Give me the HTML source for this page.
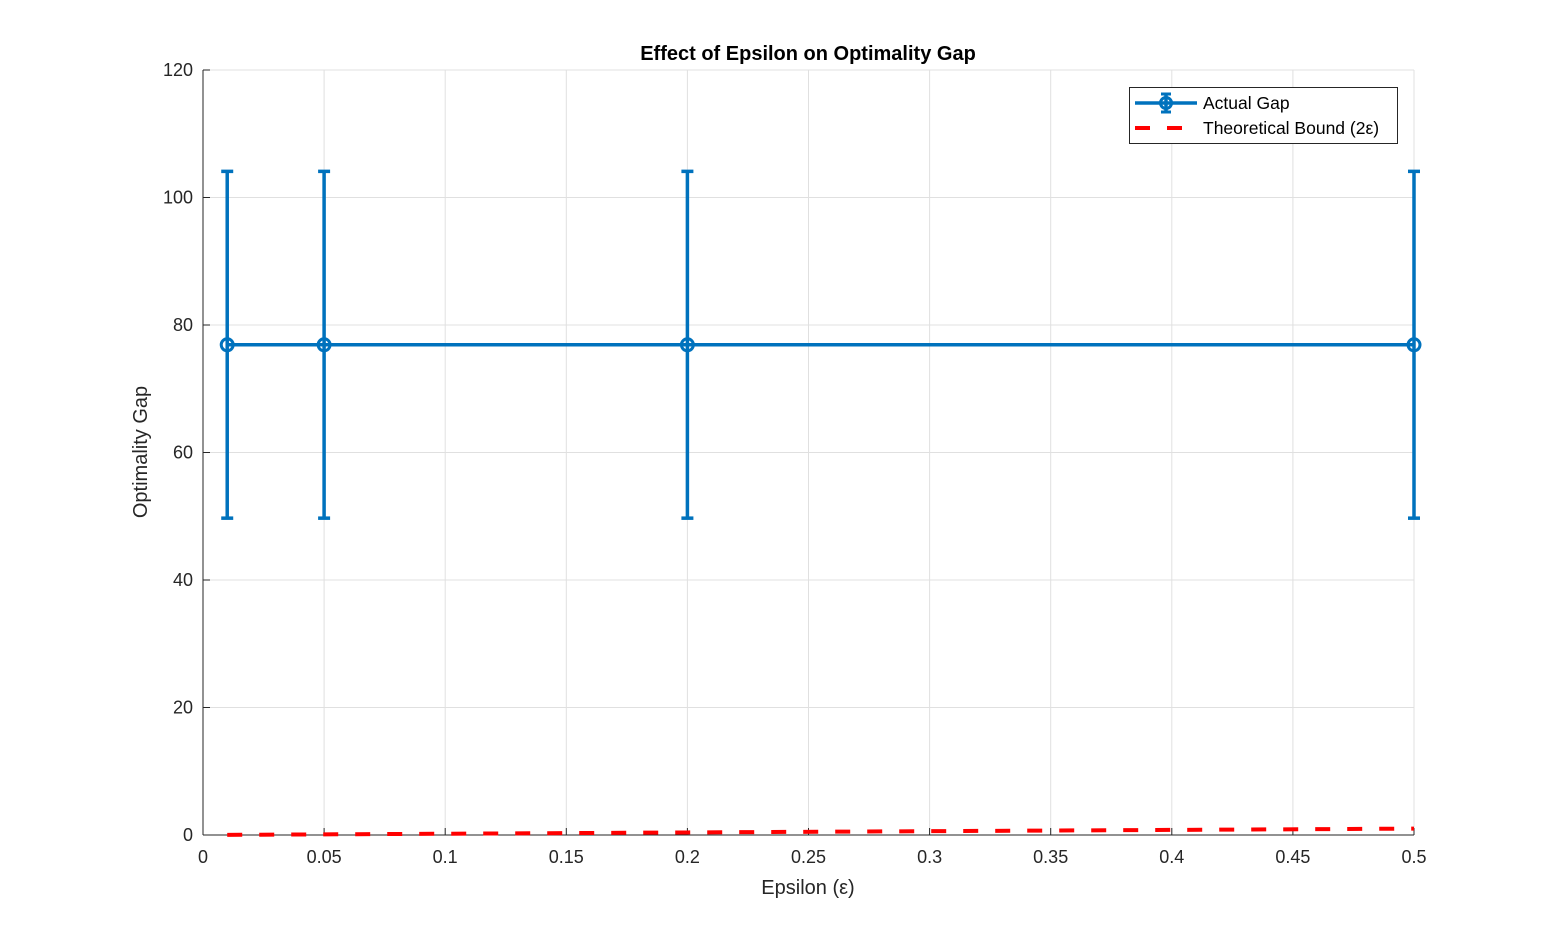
<!DOCTYPE html>
<html><head><meta charset="utf-8"><style>
body{margin:0;background:#fff;}
svg{display:block;font-family:"Liberation Sans",Arial,sans-serif;}
</style></head><body>
<svg id="chart" width="1563" height="938" viewBox="0 0 1563 938" xmlns="http://www.w3.org/2000/svg">
<rect width="1563" height="938" fill="#fff"/>
<g id="grid"></g>
<g id="axes"></g>
<g id="series"></g>
<text x="808" y="60" text-anchor="middle" font-size="20" font-weight="bold" fill="#000">Effect of Epsilon on Optimality Gap</text>
<text x="808" y="894" text-anchor="middle" font-size="20" fill="#262626">Epsilon (ε)</text>
<text transform="translate(147,452) rotate(-90)" text-anchor="middle" font-size="20" fill="#262626">Optimality Gap</text>
<g>
<rect x="1129.5" y="87.5" width="268" height="56" fill="#fff" stroke="#262626" stroke-width="1"/>
<g>
<line x1="1135" y1="103" x2="1197" y2="103" stroke="#0072BD" stroke-width="3.5"/>
<line x1="1166" y1="94" x2="1166" y2="112" stroke="#0072BD" stroke-width="3.5"/>
<line x1="1161" y1="94" x2="1171" y2="94" stroke="#0072BD" stroke-width="3"/>
<line x1="1161" y1="112" x2="1171" y2="112" stroke="#0072BD" stroke-width="3"/>
<circle cx="1166" cy="103" r="5.5" fill="none" stroke="#0072BD" stroke-width="3"/>
<text x="1203" y="109" font-size="17.5" fill="#000">Actual Gap</text>
</g>
<g>
<line x1="1135" y1="128" x2="1197" y2="128" stroke="#FF0000" stroke-width="4" stroke-dasharray="15,17"/>
<text x="1203" y="134" font-size="17.5" fill="#000">Theoretical Bound (2ε)</text>
</g>
</g>
</svg>
<script>
const epsilons = [0.01, 0.05, 0.2, 0.5];
const actualGap = [76.9, 76.9, 76.9, 76.9];
const gapError = [27.2, 27.2, 27.2, 27.2];
const boundValues = [0.02, 0.1, 0.4, 1.0];
const xTicks = [0,0.05,0.1,0.15,0.2,0.25,0.3,0.35,0.4,0.45,0.5];
const xTickLabels = ["0","0.05","0.1","0.15","0.2","0.25","0.3","0.35","0.4","0.45","0.5"];
const yTicks = [0,20,40,60,80,100,120];
const yTickLabels = ["0","20","40","60","80","100","120"];

const X0=203,X1=1414,Y0=835,Y1=70;
function xs(v){return X0+(v-0)/(0.5-0)*(X1-X0);}
function ys(v){return Y0-(v-0)/(120-0)*(Y0-Y1);}
const NS="http://www.w3.org/2000/svg";
function mk(tag,attrs,parent){const e=document.createElementNS(NS,tag);for(const k in attrs)e.setAttribute(k,attrs[k]);parent.appendChild(e);return e;}
const grid=document.getElementById('grid'),axes=document.getElementById('axes'),series=document.getElementById('series');
xTicks.forEach((t,i)=>{
  const x=xs(t);
  const g=mk('line',{x1:x,y1:Y0,x2:x,y2:Y1,stroke:'#e0e0e0','stroke-width':1},grid);
  
  
  mk('line',{x1:x,y1:Y0,x2:x,y2:Y0-7,stroke:'#262626','stroke-width':1},axes);
  const tx=mk('text',{x:x,y:Y0+28,'text-anchor':'middle','font-size':18,fill:'#262626'},axes);
  tx.textContent=xTickLabels[i];
  
  
});
yTicks.forEach((t,i)=>{
  const y=ys(t);
  const g=mk('line',{x1:X0,y1:y,x2:X1,y2:y,stroke:'#e0e0e0','stroke-width':1},grid);
  
  
  mk('line',{x1:X0,y1:y,x2:X0+7,y2:y,stroke:'#262626','stroke-width':1},axes);
  const tx=mk('text',{x:X0-10,y:y+6,'text-anchor':'end','font-size':18,fill:'#262626'},axes);
  tx.textContent=yTickLabels[i];
  
  
});
mk('line',{x1:X0,y1:Y0,x2:X1,y2:Y0,stroke:'#262626','stroke-width':1},axes);
mk('line',{x1:X0,y1:Y0,x2:X0,y2:Y1,stroke:'#262626','stroke-width':1},axes);

const bl=mk('polyline',{points:epsilons.map((e,i)=>xs(e)+','+ys(boundValues[i])).join(' '),fill:'none',stroke:'#FF0000','stroke-width':4,'stroke-dasharray':'15,17'},series);


const al=mk('polyline',{points:epsilons.map((e,i)=>xs(e)+','+ys(actualGap[i])).join(' '),fill:'none',stroke:'#0072BD','stroke-width':3.5},series);


epsilons.forEach((e,i)=>{
  const x=xs(e),yt=ys(actualGap[i]+gapError[i]),yb=ys(actualGap[i]-gapError[i]);
  const g=mk('g',{},series);
  
  
  mk('line',{x1:x,y1:yt,x2:x,y2:yb,stroke:'#0072BD','stroke-width':3.5},g);
  mk('line',{x1:x-6,y1:yt,x2:x+6,y2:yt,stroke:'#0072BD','stroke-width':3.5},g);
  mk('line',{x1:x-6,y1:yb,x2:x+6,y2:yb,stroke:'#0072BD','stroke-width':3.5},g);
  const c=mk('circle',{cx:x,cy:ys(actualGap[i]),r:6,fill:'none',stroke:'#0072BD','stroke-width':3},series);
  
  
});
</script>
</body></html>
